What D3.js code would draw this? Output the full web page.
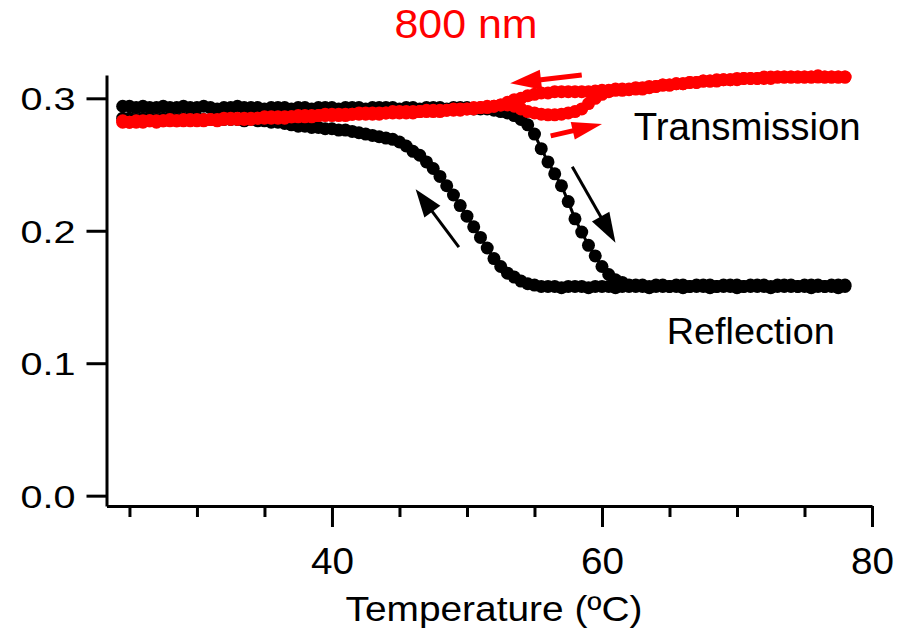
<!DOCTYPE html>
<html>
<head>
<meta charset="utf-8">
<script src="https://cdn.jsdelivr.net/npm/d3@7"></script>
<style>
  html, body { margin: 0; padding: 0; background: #fff; }
  svg { display: block; }
</style>
</head>
<body>
<svg id="chart" width="913" height="634"></svg>
<script>
const width = 913;
const height = 634;

// temperature grid (ºC) shared by every branch
const temps = [
  24.5, 25, 25.5, 26, 26.5, 27, 27.5, 28, 28.5, 29,
  29.5, 30, 30.5, 31, 31.5, 32, 32.5, 33, 33.5, 34,
  34.5, 35, 35.5, 36, 36.5, 37, 37.5, 38, 38.5, 39,
  39.5, 40, 40.5, 41, 41.5, 42, 42.5, 43, 43.5, 44,
  44.5, 45, 45.5, 46, 46.5, 47, 47.5, 48, 48.5, 49,
  49.5, 50, 50.5, 51, 51.5, 52, 52.5, 53, 53.5, 54,
  54.5, 55, 55.5, 56, 56.5, 57, 57.5, 58, 58.5, 59,
  59.5, 60, 60.5, 61, 61.5, 62, 62.5, 63, 63.5, 64,
  64.5, 65, 65.5, 66, 66.5, 67, 67.5, 68, 68.5, 69,
  69.5, 70, 70.5, 71, 71.5, 72, 72.5, 73, 73.5, 74,
  74.5, 75, 75.5, 76, 76.5, 77, 77.5, 78
];

const reflHeating = [
  0.294, 0.294, 0.293, 0.294, 0.293, 0.293, 0.294, 0.293, 0.293, 0.294,
  0.293, 0.293, 0.294, 0.293, 0.292, 0.293, 0.293, 0.294, 0.293, 0.293,
  0.293, 0.292, 0.293, 0.293, 0.293, 0.292, 0.293, 0.293, 0.292, 0.293,
  0.293, 0.293, 0.292, 0.293, 0.293, 0.293, 0.292, 0.293, 0.293, 0.293,
  0.293, 0.292, 0.293, 0.293, 0.292, 0.293, 0.293, 0.293, 0.292, 0.293,
  0.293, 0.293, 0.292, 0.292, 0.292, 0.291, 0.290, 0.289, 0.287, 0.284,
  0.280, 0.273, 0.262, 0.252, 0.243, 0.234, 0.222, 0.209, 0.199, 0.189,
  0.181, 0.173, 0.167, 0.163, 0.161, 0.159, 0.159, 0.159, 0.158, 0.159,
  0.159, 0.158, 0.159, 0.159, 0.158, 0.159, 0.159, 0.159, 0.158, 0.159,
  0.159, 0.159, 0.158, 0.159, 0.159, 0.159, 0.158, 0.159, 0.159, 0.159,
  0.158, 0.159, 0.159, 0.159, 0.158, 0.159, 0.159, 0.159
];

const reflCooling = [
  0.285, 0.285, 0.284, 0.285, 0.285, 0.284, 0.285, 0.285, 0.284, 0.285,
  0.284, 0.285, 0.284, 0.284, 0.285, 0.284, 0.284, 0.284, 0.283, 0.284,
  0.283, 0.283, 0.282, 0.282, 0.281, 0.280, 0.279, 0.279, 0.278, 0.278,
  0.277, 0.277, 0.276, 0.276, 0.275, 0.274, 0.273, 0.272, 0.271, 0.270,
  0.269, 0.267, 0.264, 0.260, 0.257, 0.252, 0.247, 0.241, 0.234, 0.227,
  0.219, 0.211, 0.203, 0.195, 0.187, 0.179, 0.173, 0.168, 0.165, 0.162,
  0.160, 0.159, 0.158, 0.158, 0.158, 0.157, 0.158, 0.158, 0.158, 0.157,
  0.158, 0.158, 0.158, 0.157, 0.158, 0.158, 0.158, 0.158, 0.157, 0.158,
  0.158, 0.158, 0.158, 0.157, 0.158, 0.158, 0.158, 0.157, 0.158, 0.158,
  0.158, 0.157, 0.158, 0.158, 0.158, 0.158, 0.157, 0.158, 0.158, 0.158,
  0.158, 0.158, 0.157, 0.158, 0.158, 0.158, 0.157, 0.158
];

const transHeating = [
  0.282, 0.282, 0.282, 0.282, 0.283, 0.282, 0.283, 0.283, 0.283, 0.283,
  0.283, 0.283, 0.283, 0.284, 0.283, 0.284, 0.284, 0.284, 0.284, 0.284,
  0.285, 0.285, 0.285, 0.285, 0.285, 0.286, 0.286, 0.286, 0.286, 0.287,
  0.287, 0.287, 0.287, 0.287, 0.288, 0.288, 0.288, 0.288, 0.288, 0.289,
  0.289, 0.289, 0.289, 0.289, 0.290, 0.290, 0.290, 0.290, 0.291, 0.291,
  0.291, 0.292, 0.292, 0.293, 0.293, 0.294, 0.295, 0.295, 0.294, 0.292,
  0.290, 0.289, 0.288, 0.2875, 0.2875, 0.288, 0.289, 0.290, 0.292, 0.296,
  0.300, 0.303, 0.305, 0.306, 0.306, 0.3065, 0.307, 0.307, 0.308, 0.309,
  0.310, 0.310, 0.311, 0.311, 0.312, 0.312, 0.313, 0.313, 0.313, 0.314,
  0.314, 0.314, 0.315, 0.315, 0.315, 0.315, 0.315, 0.316, 0.316, 0.316,
  0.316, 0.316, 0.316, 0.316, 0.316, 0.316, 0.316, 0.316
];

const transCooling = [
  0.283, 0.282, 0.283, 0.283, 0.283, 0.283, 0.283, 0.284, 0.283, 0.284,
  0.284, 0.284, 0.284, 0.284, 0.284, 0.285, 0.285, 0.285, 0.285, 0.285,
  0.285, 0.286, 0.286, 0.286, 0.286, 0.286, 0.287, 0.287, 0.287, 0.287,
  0.288, 0.288, 0.288, 0.288, 0.288, 0.289, 0.289, 0.289, 0.289, 0.289,
  0.290, 0.290, 0.290, 0.290, 0.290, 0.291, 0.291, 0.291, 0.291, 0.292,
  0.292, 0.292, 0.293, 0.293, 0.294, 0.294, 0.295, 0.297, 0.299, 0.300,
  0.302, 0.303, 0.304, 0.304, 0.305, 0.305, 0.305, 0.305, 0.305, 0.305,
  0.3055, 0.306, 0.306, 0.307, 0.307, 0.307, 0.308, 0.308, 0.309, 0.309,
  0.310, 0.310, 0.311, 0.311, 0.312, 0.312, 0.313, 0.313, 0.314, 0.314,
  0.314, 0.315, 0.315, 0.315, 0.315, 0.316, 0.316, 0.316, 0.316, 0.316,
  0.316, 0.316, 0.316, 0.317, 0.316, 0.316, 0.316, 0.316
];

const yTicks = [0, 0.1, 0.2, 0.3];
const xMajorTicks = [40, 60, 80];
const xMinorTicks = [25, 30, 35, 45, 50, 55, 65, 70, 75];

// direction arrows: [tailT, tailV, tipT, tipV]
const arrows = [
  { from: [58.5, 0.3176], to: [53.2, 0.3113], color: "#ff0000", shaft: 5, head: [31, 10] },
  { from: [56.2, 0.2716], to: [60.0, 0.2806], color: "#ff0000", shaft: 5, head: [30, 9] },
  { from: [57.8, 0.2484], to: [61.0, 0.1910], color: "#000000", shaft: 3, head: [30, 10] },
  { from: [49.4, 0.1876], to: [46.2, 0.2314], color: "#000000", shaft: 3, head: [28, 10] }
];

const svg = d3.select("#chart");

const x = d3.scaleLinear().domain([23.3, 80]).range([106.5, 872]);
const y = d3.scaleLinear().domain([-0.0078, 0.3176]).range([506, 75]);

const axisFont = "'Liberation Sans', Arial, sans-serif";

// y axis
const yAxis = svg.append("g")
  .attr("transform", `translate(${x.range()[0]},0)`)
  .call(d3.axisLeft(y).tickValues(yTicks).tickSize(20).tickSizeOuter(0).tickFormat(d3.format(".1f")));
yAxis.select(".domain").attr("stroke-width", 3);
yAxis.selectAll(".tick line").attr("stroke-width", 3);
yAxis.selectAll(".tick text")
  .attr("x", -31)
  .attr("dy", "0.37em")
  .attr("font-family", axisFont)
  .attr("font-size", 31)
  .attr("fill", "#000")
  .attr("textLength", 55)
  .attr("lengthAdjust", "spacingAndGlyphs");

// x axis, major + minor
const xAxis = svg.append("g")
  .attr("transform", `translate(0,${y.range()[0]})`)
  .call(d3.axisBottom(x).tickValues(xMajorTicks).tickSize(21).tickSizeOuter(0));
xAxis.select(".domain").attr("stroke-width", 3);
xAxis.selectAll(".tick line").attr("stroke-width", 3);
xAxis.selectAll(".tick text")
  .attr("y", 68)
  .attr("dy", 0)
  .attr("font-family", axisFont)
  .attr("font-size", 36)
  .attr("fill", "#000")
  .attr("textLength", 43)
  .attr("lengthAdjust", "spacingAndGlyphs");

const xMinor = svg.append("g")
  .attr("transform", `translate(0,${y.range()[0]})`)
  .call(d3.axisBottom(x).tickValues(xMinorTicks).tickSize(11).tickSizeOuter(0).tickFormat(""));
xMinor.select(".domain").remove();
xMinor.selectAll(".tick line").attr("stroke-width", 3);

// data
function drawBranch(values, color) {
  const pts = temps.map((t, i) => [t, values[i]]);
  const g = svg.append("g");
  g.append("path")
    .datum(pts)
    .attr("fill", "none")
    .attr("stroke", color)
    .attr("stroke-width", 3)
    .attr("d", d3.line().x(d => x(d[0])).y(d => y(d[1])));
  g.selectAll("circle")
    .data(pts)
    .join("circle")
    .attr("cx", d => x(d[0]))
    .attr("cy", d => y(d[1]))
    .attr("r", 6.5)
    .attr("fill", color);
}

drawBranch(reflHeating, "#000000");
drawBranch(reflCooling, "#000000");
drawBranch(transHeating, "#ff0000");
drawBranch(transCooling, "#ff0000");

// arrows
function drawArrow(a) {
  const x0 = x(a.from[0]), y0 = y(a.from[1]);
  const x1 = x(a.to[0]), y1 = y(a.to[1]);
  const ang = Math.atan2(y1 - y0, x1 - x0);
  const [len, half] = a.head;
  const bx = x1 - Math.cos(ang) * len;
  const by = y1 - Math.sin(ang) * len;
  const nx = -Math.sin(ang), ny = Math.cos(ang);
  svg.append("line")
    .attr("x1", x0).attr("y1", y0)
    .attr("x2", bx + Math.cos(ang) * 2).attr("y2", by + Math.sin(ang) * 2)
    .attr("stroke", a.color)
    .attr("stroke-width", a.shaft);
  svg.append("polygon")
    .attr("points", [
      [x1, y1],
      [bx + nx * half, by + ny * half],
      [bx - nx * half, by - ny * half]
    ].map(p => p.join(",")).join(" "))
    .attr("fill", a.color);
}
arrows.forEach(drawArrow);

// labels
svg.append("text")
  .attr("x", 466)
  .attr("y", 38)
  .attr("text-anchor", "middle")
  .attr("font-family", axisFont)
  .attr("font-size", 40)
  .attr("fill", "#ff0000")
  .attr("textLength", 143)
  .attr("lengthAdjust", "spacingAndGlyphs")
  .text("800 nm");

svg.append("text")
  .attr("x", 494)
  .attr("y", 621)
  .attr("text-anchor", "middle")
  .attr("font-family", axisFont)
  .attr("font-size", 35)
  .attr("fill", "#000")
  .attr("textLength", 297)
  .attr("lengthAdjust", "spacingAndGlyphs")
  .text("Temperature (ºC)");

svg.append("text")
  .attr("x", x(62.35))
  .attr("y", y(0.2689))
  .attr("font-family", axisFont)
  .attr("font-size", 38)
  .attr("fill", "#000")
  .attr("textLength", 227)
  .attr("lengthAdjust", "spacingAndGlyphs")
  .text("Transmission");

svg.append("text")
  .attr("x", x(64.8))
  .attr("y", y(0.1148))
  .attr("font-family", axisFont)
  .attr("font-size", 36)
  .attr("fill", "#000")
  .attr("textLength", 168)
  .attr("lengthAdjust", "spacingAndGlyphs")
  .text("Reflection");
</script>
</body>
</html>
